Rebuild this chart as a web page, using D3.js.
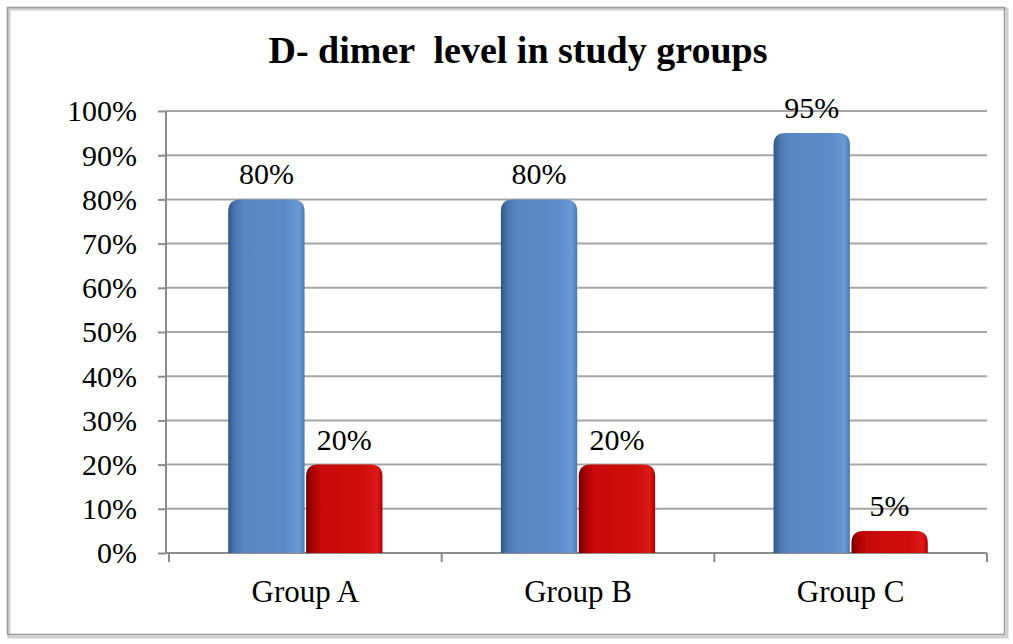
<!DOCTYPE html>
<html>
<head>
<meta charset="utf-8">
<script src="https://cdn.jsdelivr.net/npm/d3@7"></script>
<style>
  body { margin: 0; background: #fff; }
  text { font-family: "Liberation Serif", "Times New Roman", serif; fill: #000; }
</style>
</head>
<body>
<div id="chart"></div>
<script>
// D-dimer bar chart
var groups = ["Group A", "Group B", "Group C"],
    series = ["high", "normal"],
    highValues = [80, 80, 95],
    normalValues = [20, 20, 5],
    yTicks = [0, 10, 20, 30, 40, 50, 60, 70, 80, 90, 100];

var width = 1013,
    height = 644,
    serif = '"Liberation Serif", "Times New Roman", serif',
    margin = { left: 166, right: 26, top: 111, bottom: 91 };

var svg = d3.select('#chart').append('svg')
  .attr('width', width)
  .attr('height', height);

var defs = svg.append('defs');

// horizontal shading for the bevelled bars
function barGradient(id, stops) {
  var g = defs.append('linearGradient').attr('id', id)
    .attr('x1', '0%').attr('x2', '100%').attr('y1', '0%').attr('y2', '0%');
  stops.forEach(function(s) {
    g.append('stop').attr('offset', s[0]).attr('stop-color', s[1]);
  });
}
barGradient('gBlue', [['0%', '#2f5586'], ['8%', '#4a76ad'], ['20%', '#5886c2'], ['75%', '#5b8bc8'], ['93%', '#6a9ad6'], ['100%', '#4a78b0']]);
barGradient('gRed', [['0%', '#6e0000'], ['8%', '#a80000'], ['20%', '#c80a0a'], ['75%', '#cf0c0c'], ['93%', '#dc1a1a'], ['100%', '#b00000']]);

// frame with soft shadow
svg.append('rect')
  .attr('x', 9).attr('y', 9).attr('width', 998).attr('height', 628)
  .attr('fill', 'none').attr('stroke', '#d0d0d0').attr('stroke-width', 3);
svg.append('rect')
  .attr('x', 7.5).attr('y', 7.5).attr('width', 997).attr('height', 627)
  .attr('fill', 'none').attr('stroke', '#9a9a9a').attr('stroke-width', 1.5);

var x0 = d3.scaleBand()
  .domain(groups)
  .range([169, width - margin.right])
  .paddingInner(0).paddingOuter(0);

var x1 = d3.scaleBand()
  .domain(series)
  .range([0, x0.bandwidth()])
  .paddingInner(0.02)
  .paddingOuter(0.76);

var y = d3.scaleLinear()
  .domain([0, 100])
  .range([height - margin.bottom, margin.top]);

// gridlines
svg.append('g')
  .selectAll('line')
  .data(yTicks)
  .enter().append('line')
  .attr('x1', margin.left).attr('x2', width - margin.right)
  .attr('y1', function(d) { return y(d); })
  .attr('y2', function(d) { return y(d); })
  .attr('stroke', '#a6a6a6').attr('stroke-width', 2);

// y axis
var yAxis = svg.append('g')
  .attr('transform', 'translate(' + margin.left + ',0)')
  .call(d3.axisLeft(y).tickValues(yTicks).tickSize(8).tickPadding(10)
    .tickFormat(function(d) { return d + '%'; }));
yAxis.attr('font-family', serif);
yAxis.selectAll('text').style('font-size', '30px').style('font-family', serif)
  .attr('dx', '-11').attr('dy', '0.33em');
yAxis.selectAll('line, path').attr('stroke', '#8c8c8c').attr('stroke-width', 2);
yAxis.select('.domain').attr('d', 'M0,' + y(100) + 'V' + y(0));

// x axis: ticks between the groups
var bounds = groups.map(function(g) { return x0(g); }).concat([x0.range()[1]]);
var xAxis = svg.append('g');
xAxis.append('line')
  .attr('x1', margin.left).attr('x2', width - margin.right)
  .attr('y1', y(0)).attr('y2', y(0))
  .attr('stroke', '#8c8c8c').attr('stroke-width', 2);
xAxis.selectAll('.tick')
  .data(bounds)
  .enter().append('line')
  .attr('x1', function(d) { return d; }).attr('x2', function(d) { return d; })
  .attr('y1', y(0)).attr('y2', y(0) + 9)
  .attr('stroke', '#8c8c8c').attr('stroke-width', 2);
xAxis.selectAll('text')
  .data(groups)
  .enter().append('text')
  .attr('x', function(d) { return x0(d) + x0.bandwidth() / 2; })
  .attr('y', 602)
  .attr('text-anchor', 'middle')
  .style('font-family', serif)
  .style('font-size', '31px')
  .text(function(d) { return d; });

// rounded-top bar path
function barPath(x, yTop, w, yBase) {
  var r = Math.min(12, (yBase - yTop));
  return 'M' + x + ',' + yBase +
    'V' + (yTop + r) +
    'Q' + x + ',' + yTop + ' ' + (x + r) + ',' + yTop +
    'H' + (x + w - r) +
    'Q' + (x + w) + ',' + yTop + ' ' + (x + w) + ',' + (yTop + r) +
    'V' + yBase + 'Z';
}

var rows = groups.map(function(g, i) {
  return { group: g, values: [
    { key: 'high', value: highValues[i] },
    { key: 'normal', value: normalValues[i] }
  ] };
});

var groupG = svg.selectAll('.group')
  .data(rows)
  .enter().append('g')
  .attr('class', 'group')
  .attr('transform', function(d) { return 'translate(' + x0(d.group) + ',0)'; });

groupG.selectAll('path')
  .data(function(d) { return d.values; })
  .enter().append('path')
  .attr('d', function(d) { return barPath(x1(d.key), y(d.value), x1.bandwidth(), y(0)); })
  .attr('fill', function(d) { return d.key === 'high' ? 'url(#gBlue)' : 'url(#gRed)'; });

groupG.selectAll('text')
  .data(function(d) { return d.values; })
  .enter().append('text')
  .attr('x', function(d) { return x1(d.key) + x1.bandwidth() / 2; })
  .attr('y', function(d) { return y(d.value) - 15; })
  .attr('text-anchor', 'middle')
  .style('font-family', serif)
  .style('font-size', '30px')
  .text(function(d) { return d.value + '%'; });

// title
svg.append('text')
  .attr('x', 518).attr('y', 63)
  .attr('text-anchor', 'middle')
  .attr('xml:space', 'preserve')
  .style('white-space', 'pre')
  .style('font-family', serif)
  .style('font-size', '38px').style('font-weight', 'bold')
  .text('D- dimer  level in study groups');
</script>
</body>
</html>
